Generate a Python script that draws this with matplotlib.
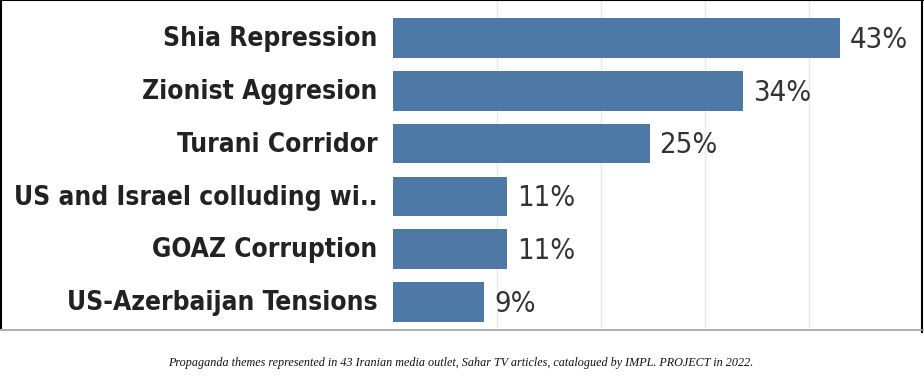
import matplotlib
matplotlib.use("Agg")
import matplotlib.pyplot as plt
from matplotlib.lines import Line2D

# --- Datos ---
temas = [
    "Shia Repression",
    "Zionist Aggresion",
    "Turani Corridor",
    "US and Israel colluding wi..",
    "GOAZ Corruption",
    "US-Azerbaijan Tensions",
]
porcentajes = [43.0, 33.7, 24.7, 11.0, 11.0, 8.8]
etiquetas = ["43%", "34%", "25%", "11%", "11%", "9%"]
pie = ("Propaganda themes represented in 43 Iranian media outlet, Sahar TV articles, "
       "catalogued by IMPL. PROJECT in 2022.")

AZUL, TXT, GRID = "#4e79a7", "#222222", "#e8e8e8"
FUENTE = "DejaVu Sans"

fig = plt.figure(figsize=(9.24, 3.86), dpi=100)
ax = fig.add_axes([393 / 924, 1 - 328 / 386, (922 - 393) / 924, 328 / 386])

y = list(range(len(temas)))
ax.barh(y, porcentajes, height=0.75, color=AZUL, zorder=2)
for yi, tema, v, lab in zip(y, temas, porcentajes, etiquetas):
    # etiqueta de categoría, a la izquierda del eje
    ax.annotate(tema, (0, yi), xycoords=("axes fraction", "data"),
                xytext=(-11, -5.8), textcoords="offset points",
                va="baseline", ha="right", fontsize=18.9, fontweight="bold",
                family=FUENTE, stretch="condensed", color=TXT, annotation_clip=False)
    # valor al final de la barra
    ax.annotate(lab, (v, yi), xytext=(7, -7), textcoords="offset points",
                va="baseline", ha="left", fontsize=21, color="#333333",
                family=FUENTE, stretch="condensed")

ax.set_xlim(0, 50.9)
ax.set_ylim(5.49, -0.72)
ax.set_xticks([10, 20, 30, 40])
ax.xaxis.grid(True, color=GRID, lw=1, zorder=0)
ax.tick_params(axis="x", length=0, labelbottom=False)
ax.set_yticks([])
for s in ax.spines.values():
    s.set_visible(False)

# marco de la imagen
fig.add_artist(Line2D([0.001, 0.001], [1 - 328 / 386, 1], color="black", lw=1.5))
fig.add_artist(Line2D([0, 1], [0.999, 0.999], color="black", lw=1.5))
fig.add_artist(Line2D([922 / 924, 922 / 924], [1 - 332 / 386, 1], color="black", lw=1.5))
fig.add_artist(Line2D([0, 1], [1 - 330 / 386, 1 - 330 / 386], color="#a0a0a0", lw=1.2))

fig.text(461 / 924, 1 - 363 / 386, pie, ha="center", va="center", fontsize=8.7,
         style="italic", family="Liberation Serif", color="#111111")

fig.savefig("out.png", dpi=100)
